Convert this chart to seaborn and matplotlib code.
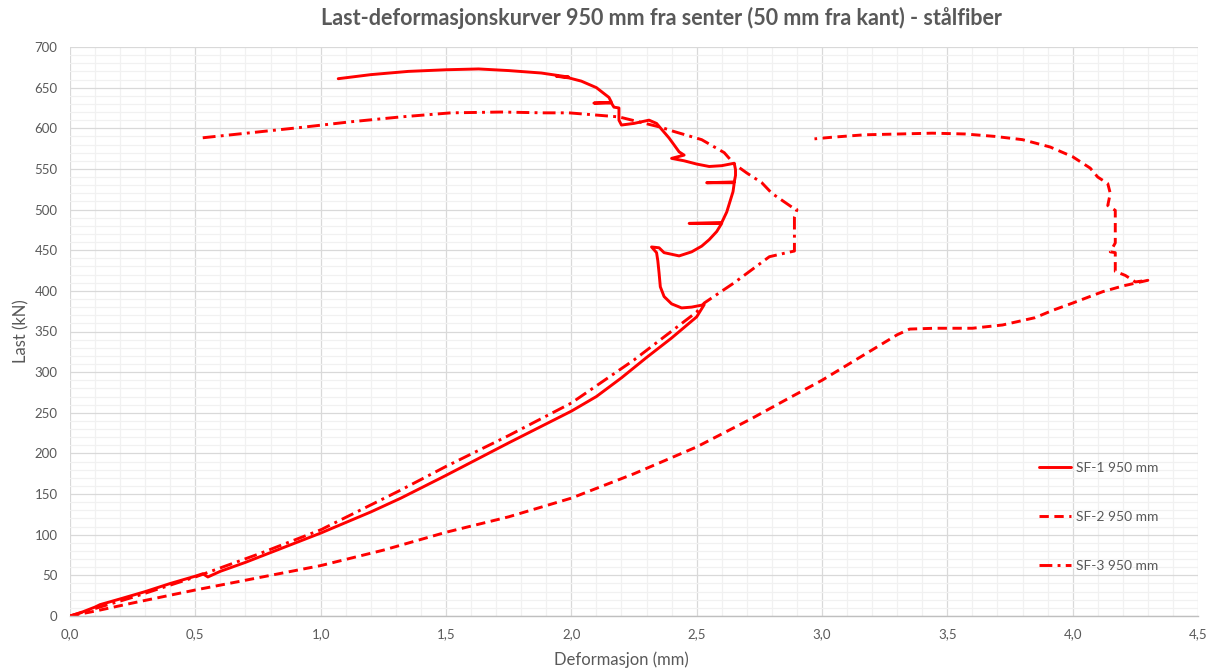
import matplotlib
matplotlib.use("Agg")
import matplotlib.pyplot as plt
from matplotlib.ticker import MultipleLocator, FuncFormatter
import numpy as np
import pandas as pd
import seaborn as sns

# --- measured curves: deformation (mm) and load (kN) ---
sf1_label = "SF-1 950 mm"
sf1_x = [0.00, 0.05, 0.10, 0.12, 0.20, 0.30, 0.40, 0.50, 0.53, 0.55, 0.60, 0.70, 0.80, 0.90,
         1.00, 1.10, 1.20, 1.32, 1.50, 1.75, 2.00, 2.10, 2.20, 2.30, 2.40, 2.50, 2.53,
         2.48, 2.44, 2.40, 2.37, 2.355, 2.35, 2.345, 2.34, 2.32, 2.35, 2.37, 2.43, 2.48,
         2.52, 2.55, 2.58, 2.60, 2.47, 2.60, 2.62, 2.635, 2.645, 2.65, 2.54, 2.65, 2.655,
         2.655, 2.65, 2.60, 2.55, 2.50, 2.45, 2.40, 2.45, 2.43,
         2.39, 2.34, 2.31, 2.25, 2.20, 2.19, 2.19, 2.17, 2.16, 2.09, 2.16, 2.15, 2.10,
         2.04, 1.99, 1.94, 1.99, 1.88, 1.75, 1.63, 1.50, 1.35, 1.20, 1.07]
sf1_y = [0, 5, 11, 14, 21, 30, 40, 49, 52, 48, 55, 66, 78, 90,
         102, 115, 128, 145, 173, 213, 252, 270, 293, 318, 342, 368, 383,
         380, 379, 384, 393, 405, 422, 437, 447, 454, 453, 447, 443, 448,
         455, 463, 473, 483, 483, 484, 497, 512, 522, 533, 533, 534, 542,
         549, 557, 554, 553, 556, 560, 563, 567, 571,
         588, 606, 610, 606, 604, 610, 625, 626, 631, 631, 632, 638, 650,
         658, 662, 664, 663, 668, 671, 673, 672, 670, 666, 661]

sf2_label = "SF-2 950 mm"
sf2_x = [0.00, 0.10, 0.25, 0.50, 0.75, 1.00, 1.25, 1.50, 1.75, 2.00, 2.25, 2.50, 2.72,
         2.85, 3.00, 3.15, 3.30, 3.35, 3.45, 3.60, 3.72, 3.85, 3.92, 4.00, 4.12, 4.20,
         4.30, 4.25, 4.21, 4.17, 4.17, 4.15, 4.17, 4.17, 4.17, 4.14, 4.15, 4.14, 4.10,
         4.07, 4.00, 3.91, 3.80, 3.69, 3.57, 3.44, 3.31, 3.17, 3.04, 2.97]
sf2_y = [0, 6, 16, 32, 47, 62, 81, 103, 122, 145, 175, 208, 243,
         265, 290, 318, 346, 353, 354, 354, 358, 367, 376, 385, 399, 406,
         413, 411, 419, 424, 447, 448, 459, 487, 499, 505, 520, 532, 540,
         551, 565, 577, 586, 590, 593, 594, 593, 592, 589, 587]

sf3_label = "SF-3 950 mm"
sf3_x = [0.00, 0.25, 0.50, 0.75, 1.00, 1.32, 1.50, 1.75, 2.00, 2.25, 2.50, 2.53, 2.65,
         2.79, 2.86, 2.89, 2.89, 2.89, 2.90, 2.88, 2.80, 2.76, 2.70, 2.65, 2.61, 2.52,
         2.41, 2.36, 2.19, 1.99, 1.89, 1.72, 1.52, 1.32, 1.12, 0.92, 0.52]
sf3_y = [0, 23, 48, 76, 106, 155, 184, 222, 262, 315, 374, 385, 410,
         442, 447, 449, 470, 491, 500, 503, 520, 533, 545, 556, 570, 586,
         596, 601, 614, 619, 619, 620, 619, 614, 608, 601, 588]

title = "Last-deformasjonskurver 950 mm fra senter (50 mm fra kant) - stålfiber"
x_title = "Deformasjon (mm)"
y_title = "Last (kN)"

frames = []
for lab, xs, ys in [(sf1_label, sf1_x, sf1_y), (sf2_label, sf2_x, sf2_y), (sf3_label, sf3_x, sf3_y)]:
    frames.append(pd.DataFrame({"Deformasjon": xs, "Last": ys, "Serie": lab,
                                "order": np.arange(len(xs))}))
df = pd.concat(frames, ignore_index=True)

sns.set_style("white")
plt.rcParams["font.family"] = ["Lato", "DejaVu Sans"]

text_col = "#595959"
fig = plt.figure(figsize=(12.14, 6.70), dpi=100)
ax = fig.add_axes([70 / 1214, 54 / 670, 1128 / 1214, 569 / 670])

series_order = [sf1_label, sf2_label, sf3_label]
sns.lineplot(data=df, x="Deformasjon", y="Last", hue="Serie", style="Serie",
             hue_order=series_order, style_order=series_order,
             palette={s: "#FF0000" for s in series_order},
             dashes={sf1_label: "", sf2_label: (3.2, 1.9), sf3_label: (4.4, 1.8, 1.0, 1.8)},
             sort=False, estimator=None, linewidth=2.1, ax=ax)

ax.set_xlim(0, 4.5)
ax.set_ylim(0, 700)
ax.xaxis.set_major_locator(MultipleLocator(0.5))
ax.xaxis.set_minor_locator(MultipleLocator(0.1))
ax.yaxis.set_major_locator(MultipleLocator(50))
ax.yaxis.set_minor_locator(MultipleLocator(10))
ax.xaxis.set_major_formatter(FuncFormatter(lambda v, p: f"{v:.1f}".replace(".", ",")))
ax.yaxis.set_major_formatter(FuncFormatter(lambda v, p: f"{int(round(v))}"))

ax.grid(which="major", color="#D9D9D9", linewidth=0.9)
ax.grid(which="minor", color="#F1F1F1", linewidth=0.9)
ax.set_axisbelow(True)
for side in ["top", "right", "left"]:
    ax.spines[side].set_visible(False)
ax.spines["bottom"].set_color("#BFBFBF")
ax.spines["bottom"].set_linewidth(1.0)
ax.tick_params(which="both", length=0)
ax.tick_params(axis="x", labelsize=9.5, colors=text_col, pad=9)
ax.tick_params(axis="y", labelsize=9.5, colors=text_col, pad=9)

ax.set_xlabel(x_title, fontsize=12, color=text_col)
ax.set_ylabel(y_title, fontsize=12, color=text_col)
ax.xaxis.set_label_coords(0.489, -0.062)
ax.yaxis.set_label_coords(-0.036, 0.5)

fig.text(661 / 1214, 1 - 18 / 670, title, ha="center", va="center",
         fontsize=15.5, fontweight="bold", color=text_col)

sns.move_legend(ax, loc="center left", bbox_to_anchor=(0.853, 0.174), frameon=False,
                title=None, fontsize=10, labelspacing=2.65, handlelength=2.3,
                handletextpad=0.35, borderpad=0)
for t in ax.get_legend().get_texts():
    t.set_color(text_col)

fig.savefig("out.png", dpi=100)
